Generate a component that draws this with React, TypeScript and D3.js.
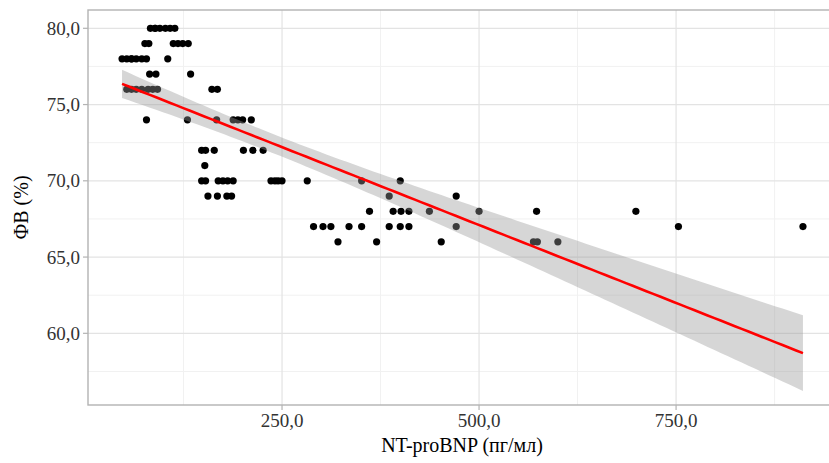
import React from 'react';
import * as d3 from 'd3';

// NT-proBNP (pg/ml) and LVEF (%) per patient, grouped by LVEF value
// (a few patients share identical values and overlap on the plot)
const ntProBNP = [
  83, 89, 89, 95, 102, 108, 114,
  76, 81, 112, 118, 124, 131,
  47, 53, 59, 59, 65, 72, 78, 105,
  82, 90, 134,
  53, 59, 65, 72, 80, 86, 92, 161, 168,
  78, 130, 167, 188, 194, 200, 211,
  148, 153, 164, 201, 213, 226,
  152,
  148, 153, 169, 175, 181, 188, 236, 241, 245, 250, 282, 351, 400,
  156, 168, 180, 186, 386, 471,
  361, 391, 401, 411, 437, 500, 573, 699,
  290, 302, 312, 335, 351, 386, 400, 411, 471, 753, 911,
  321, 370, 452, 569, 574, 600,
];
const lvef = [
  80, 80, 80, 80, 80, 80, 80,
  79, 79, 79, 79, 79, 79,
  78, 78, 78, 78, 78, 78, 78, 78,
  77, 77, 77,
  76, 76, 76, 76, 76, 76, 76, 76, 76,
  74, 74, 74, 74, 74, 74, 74,
  72, 72, 72, 72, 72, 72,
  71,
  70, 70, 70, 70, 70, 70, 70, 70, 70, 70, 70, 70, 70,
  69, 69, 69, 69, 69, 69,
  68, 68, 68, 68, 68, 68, 68, 68,
  67, 67, 67, 67, 67, 67, 67, 67, 67, 67, 67,
  66, 66, 66, 66, 66, 66,
];

const xTicks = [250, 500, 750];
const xMinorTicks = [125, 375, 625, 875];
const yTicks = [60, 65, 70, 75, 80];
const yMinorTicks = [57.5, 62.5, 67.5, 72.5, 77.5];

const xTitle = 'NT-proBNP (пг/мл)';
const yTitle = 'ФВ (%)';

const W = 829;
const H = 463;
const T_CRIT = 1.987; // t(0.975, df = n - 2)

function fitLm(xs: number[], ys: number[]) {
  const n = xs.length;
  const mx = d3.mean(xs)!;
  const my = d3.mean(ys)!;
  let sxx = 0, sxy = 0;
  for (let i = 0; i < n; i++) {
    sxx += (xs[i] - mx) ** 2;
    sxy += (xs[i] - mx) * (ys[i] - my);
  }
  const b = sxy / sxx;
  const a = my - b * mx;
  let sse = 0;
  for (let i = 0; i < n; i++) sse += (ys[i] - (a + b * xs[i])) ** 2;
  const s = Math.sqrt(sse / (n - 2));
  return { a, b, s, n, mx, sxx };
}

export default function App() {
  const fit = fitLm(ntProBNP, lvef);
  const [xmin, xmax] = d3.extent(ntProBNP) as [number, number];
  const xpad = (xmax - xmin) * 0.05;

  const x = d3.scaleLinear().domain([xmin - xpad, xmax + xpad]).range([88, 837]);
  const y = d3.scaleLinear().domain([55.3, 81.2]).range([405, 10]);

  const grid = d3.range(0, 101).map((i) => xmin + ((xmax - xmin) * i) / 100);
  const band = grid.map((gx) => {
    const yhat = fit.a + fit.b * gx;
    const se = fit.s * Math.sqrt(1 / fit.n + (gx - fit.mx) ** 2 / fit.sxx);
    return { x: gx, yhat, lo: yhat - T_CRIT * se, hi: yhat + T_CRIT * se };
  });

  const area = d3
    .area<{ x: number; lo: number; hi: number }>()
    .x((d) => x(d.x))
    .y0((d) => y(d.lo))
    .y1((d) => y(d.hi));
  const line = d3
    .line<{ x: number; yhat: number }>()
    .x((d) => x(d.x))
    .y((d) => y(d.yhat));

  const [px0, px1] = x.range();
  const [py0, py1] = y.range();
  const font = '"Liberation Serif", "Times New Roman", serif';
  const gridCol = '#e3e3e3';
  const minorCol = '#f1f1f1';
  const borderCol = '#b3b3b3';

  return (
    <svg
      width={W}
      height={H}
      style={{ position: 'absolute', left: 0, top: 0, background: '#fff' }}
      fontFamily={font}
    >
      <rect x={px0} y={py1} width={px1 - px0} height={py0 - py1} fill="#fff" />
      {yMinorTicks.map((t) => (
        <line key={'ym' + t} x1={px0} x2={px1} y1={y(t)} y2={y(t)} stroke={minorCol} strokeWidth={1} />
      ))}
      {xMinorTicks.map((t) => (
        <line key={'xm' + t} x1={x(t)} x2={x(t)} y1={py0} y2={py1} stroke={minorCol} strokeWidth={1} />
      ))}
      {yTicks.map((t) => (
        <line key={'yg' + t} x1={px0} x2={px1} y1={y(t)} y2={y(t)} stroke={gridCol} strokeWidth={1.2} />
      ))}
      {xTicks.map((t) => (
        <line key={'xg' + t} x1={x(t)} x2={x(t)} y1={py0} y2={py1} stroke={gridCol} strokeWidth={1.2} />
      ))}

      {ntProBNP.map((v, i) => (
        <circle key={'p' + i} cx={x(v)} cy={y(lvef[i])} r={3.6} fill="#000" />
      ))}

      <path d={area(band) || ''} fill="#999999" fillOpacity={0.4} />
      <path d={line(band) || ''} fill="none" stroke="#ff0000" strokeWidth={2.6} />

      <rect
        x={px0}
        y={py1}
        width={px1 - px0}
        height={py0 - py1}
        fill="none"
        stroke={borderCol}
        strokeWidth={1.4}
      />

      {yTicks.map((t) => (
        <g key={'yt' + t}>
          <line x1={px0 - 5} x2={px0} y1={y(t)} y2={y(t)} stroke={borderCol} strokeWidth={1.2} />
          <text x={px0 - 8} y={y(t)} dy="0.35em" textAnchor="end" fontSize={19} fill="#333">
            {d3.format('.1f')(t).replace('.', ',')}
          </text>
        </g>
      ))}
      {xTicks.map((t) => (
        <g key={'xt' + t}>
          <line x1={x(t)} x2={x(t)} y1={py0} y2={py0 + 5} stroke={borderCol} strokeWidth={1.2} />
          <text x={x(t)} y={py0 + 22} textAnchor="middle" fontSize={19} fill="#333">
            {d3.format('.1f')(t).replace('.', ',')}
          </text>
        </g>
      ))}

      <text x={462} y={452} textAnchor="middle" fontSize={20} fill="#000">
        {xTitle}
      </text>
      <text
        transform={`translate(28, ${(py0 + py1) / 2}) rotate(-90)`}
        textAnchor="middle"
        fontSize={20}
        fill="#000"
      >
        {yTitle}
      </text>
    </svg>
  );
}
